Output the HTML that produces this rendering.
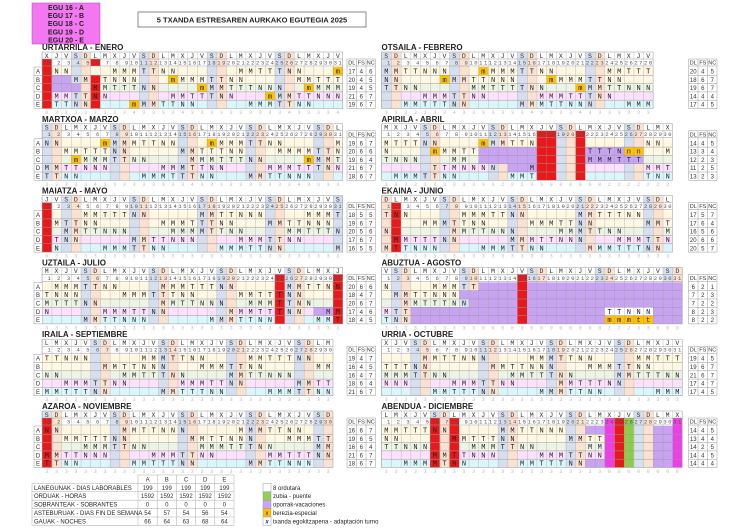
<!DOCTYPE html>
<html><head><meta charset="utf-8"><style>
body{margin:0;background:#fff;width:750px;height:529px;overflow:hidden}
svg{display:block}
.t{font:bold 8px "Liberation Sans",sans-serif;fill:#222}
.e{font:bold 7px "Liberation Sans",sans-serif;fill:#222}
.h{font:6.5px "Liberation Mono",monospace;letter-spacing:5.8px;white-space:pre;fill:#333}
.r{font:7px "Liberation Mono",monospace;letter-spacing:5.5px;white-space:pre;fill:#222}
.n{font:5.5px "Liberation Mono",monospace;letter-spacing:1.55px;white-space:pre;fill:#555}
.d{font:5px "Liberation Mono",monospace;letter-spacing:6.7px;white-space:pre;fill:#bbb}
.s{font:6px "Liberation Sans",sans-serif;fill:#333;text-anchor:middle}
.l{font:6px "Liberation Sans",sans-serif;fill:#222}
.ln{stroke:#999;stroke-width:.5;fill:none}
.S{fill:#d6dff0}.D{fill:#fbe1d0}.R{fill:#e8191b}.P{fill:#c7a3f2}.O{fill:#ffc000}.M{fill:#ec3fe4}.G{fill:#8ccc4a}
.ta{fill:#fff2cc;opacity:.6}.tb{fill:#fff2cc;opacity:.5}.tc{fill:#e2efda;opacity:.7}.td{fill:#ffccff;opacity:.6}.te{fill:#ccf2f8;opacity:.7}
</style></head><body>
<svg width="750" height="529" viewBox="0 0 750 529" xmlns="http://www.w3.org/2000/svg">
<defs>
<pattern id="vg" patternUnits="userSpaceOnUse" width="9.7" height="10"><line x1="0" y1="0" x2="0" y2="10" stroke="#999" stroke-width=".6"/></pattern>
<g id="tint31"><rect class="ta" y="15" width="300.7" height="8.3"/><rect class="tb" y="23.3" width="300.7" height="8.3"/><rect class="tc" y="31.6" width="300.7" height="8.3"/><rect class="td" y="39.9" width="300.7" height="8.3"/><rect class="te" y="48.2" width="300.7" height="8.3"/></g>
<g id="tint30"><rect class="ta" y="15" width="291" height="8.3"/><rect class="tb" y="23.3" width="291" height="8.3"/><rect class="tc" y="31.6" width="291" height="8.3"/><rect class="td" y="39.9" width="291" height="8.3"/><rect class="te" y="48.2" width="291" height="8.3"/></g>
<g id="tint28"><rect class="ta" y="15" width="271.6" height="8.3"/><rect class="tb" y="23.3" width="271.6" height="8.3"/><rect class="tc" y="31.6" width="271.6" height="8.3"/><rect class="td" y="39.9" width="271.6" height="8.3"/><rect class="te" y="48.2" width="271.6" height="8.3"/></g>
<g id="g31"><rect width="300.7" height="56.5" fill="url(#vg)"/><rect class="ln" width="300.7" height="56.5"/><path class="ln" d="M0 7h300.7M0 14h300.7M0 23.3h300.7M0 31.6h300.7M0 39.9h300.7M0 48.2h300.7"/></g>
<g id="g30"><rect width="291" height="56.5" fill="url(#vg)"/><rect class="ln" width="291" height="56.5"/><path class="ln" d="M0 7h291M0 14h291M0 23.3h291M0 31.6h291M0 39.9h291M0 48.2h291"/></g>
<g id="g28"><rect width="271.6" height="56.5" fill="url(#vg)"/><rect class="ln" width="271.6" height="56.5"/><path class="ln" d="M0 7h271.6M0 14h271.6M0 23.3h271.6M0 31.6h271.6M0 39.9h271.6M0 48.2h271.6"/></g>
<g id="lab"><rect x="-8" y="15" width="8" height="41.5" fill="#fff"/><path class="ln" d="M-8 15h8M-8 23.3h8M-8 31.6h8M-8 39.9h8M-8 48.2h8M-8 56.5h8M-8 15v41.5"/><text class="s" x="-4" y="21.5">A</text><text class="s" x="-4" y="29.8">B</text><text class="s" x="-4" y="38.1">C</text><text class="s" x="-4" y="46.4">D</text><text class="s" x="-4" y="54.7">E</text></g>
<g id="sth"><path class="ln" d="M0 7h28.5v49.5h-28.5zM0 14h28.5M0 23.3h28.5M0 31.6h28.5M0 39.9h28.5M0 48.2h28.5M9.5 7v49.5M19 7v49.5"/><text class="s" x="4.75" y="12.5" style="font-size:5.5px">DL</text><text class="s" x="14.25" y="12.5" style="font-size:5.5px">FS</text><text class="s" x="23.75" y="12.5" style="font-size:5.5px">NC</text></g>
</defs>

<!-- top -->
<rect x="32" y="3" width="68" height="41" fill="#f277f0" stroke="#b040b0" stroke-width=".5"/>
<text class="e" x="66" y="9.8" text-anchor="middle">EGU 16  -  A</text>
<text class="e" x="66" y="18" text-anchor="middle">EGU 17  -  B</text>
<text class="e" x="66" y="26.2" text-anchor="middle">EGU 18  -  C</text>
<text class="e" x="66" y="34.4" text-anchor="middle">EGU 19  -  D</text>
<text class="e" x="66" y="42.4" text-anchor="middle">EGU 20  -  E</text>
<rect x="138" y="12" width="228" height="15" fill="#fff" stroke="#888" stroke-width="1"/>
<text class="t" x="252" y="22.5" text-anchor="middle" style="font-size:7.5px">5 TXANDA ESTRESAREN AURKAKO EGUTEGIA   2025</text>

<!-- JAN -->
<g transform="translate(42,52)">
<text class="t" x="0" y="-2">URTARRILA - ENERO</text>
<use href="#tint31"/>
<rect class="S" x="29.1" width="9.7" height="56.5"/><rect class="S" x="97" width="9.7" height="56.5"/><rect class="S" x="164.9" width="9.7" height="56.5"/><rect class="S" x="232.8" width="9.7" height="56.5"/>
<rect class="D" x="38.8" width="9.7" height="56.5"/><rect class="D" x="106.7" width="9.7" height="56.5"/><rect class="D" x="174.6" width="9.7" height="56.5"/><rect class="D" x="242.5" width="9.7" height="56.5"/>
<rect class="P" x="9.7" y="23.3" width="19.4" height="8.3"/><rect class="P" x="9.7" y="31.6" width="29.1" height="8.3"/>
<rect class="R" x="0" y="7" width="9.7" height="49.5"/><rect class="R" x="48.5" y="23.3" width="9.7" height="33.2"/><rect class="R" x="48.5" y="7" width="9.7" height="7"/>
<rect class="O" x="291" y="15" width="9.7" height="8.3"/><rect class="O" x="126.1" y="23.3" width="9.7" height="8.3"/><rect class="O" x="155.2" y="31.6" width="9.7" height="8.3"/><rect class="O" x="261.9" y="31.6" width="9.7" height="8.3"/><rect class="O" x="223.1" y="39.9" width="9.7" height="8.3"/><rect class="O" x="87.3" y="48.2" width="9.7" height="8.3"/>
<use href="#g31"/><use href="#lab"/>
<text class="h" x="2.8" y="5.8" xml:space="preserve">XJVSDLMXJVSDLMXJVSDLMXJVSDLMXJV</text>
<text class="n" x="0.6" y="12.4" xml:space="preserve"> 1 2 3 4 5 6 7 8 910111213141516171819202122232425262728293031</text>
<text class="r" x="2.75" y="21.5" xml:space="preserve"> NN    MMMTTNN      MMTTTNN   m</text>
<text class="r" x="2.75" y="29.8" xml:space="preserve">   MM TNNN   mMMMTTNN     MMTTT</text>
<text class="r" x="2.75" y="38.1" xml:space="preserve">     MMTTTNN    mMMTTTNNN  mMMM</text>
<text class="r" x="2.75" y="46.4" xml:space="preserve"> MMTTNN      MMTTTNN   mMMTTNNN</text>
<text class="r" x="2.75" y="54.7" xml:space="preserve"> TTNN    mMMTTNN     MMMTTNN   </text>
<text class="d" x="3.3" y="62" xml:space="preserve">0333333334333343333333333433334</text>
<g transform="translate(305,0)"><use href="#sth"/>
<text class="s" x="4.75" y="21.5">17</text><text class="s" x="14.25" y="21.5">4</text><text class="s" x="23.75" y="21.5">6</text>
<text class="s" x="4.75" y="29.8">20</text><text class="s" x="14.25" y="29.8">4</text><text class="s" x="23.75" y="29.8">5</text>
<text class="s" x="4.75" y="38.1">19</text><text class="s" x="14.25" y="38.1">4</text><text class="s" x="23.75" y="38.1">5</text>
<text class="s" x="4.75" y="46.4">21</text><text class="s" x="14.25" y="46.4">6</text><text class="s" x="23.75" y="46.4">7</text>
<text class="s" x="4.75" y="54.7">19</text><text class="s" x="14.25" y="54.7">6</text><text class="s" x="23.75" y="54.7">7</text></g>
</g>

<!-- FEB -->
<g transform="translate(381.5,52)">
<text class="t" x="0" y="-2">OTSAILA - FEBRERO</text>
<use href="#tint28"/>
<rect class="S" x="0" width="9.7" height="56.5"/><rect class="S" x="67.9" width="9.7" height="56.5"/><rect class="S" x="135.8" width="9.7" height="56.5"/><rect class="S" x="203.7" width="9.7" height="56.5"/>
<rect class="D" x="9.7" width="9.7" height="56.5"/><rect class="D" x="77.6" width="9.7" height="56.5"/><rect class="D" x="145.5" width="9.7" height="56.5"/><rect class="D" x="213.4" width="9.7" height="56.5"/>
<rect class="O" x="97" y="15" width="9.7" height="8.3"/><rect class="O" x="58.2" y="23.3" width="9.7" height="8.3"/><rect class="O" x="164.9" y="23.3" width="9.7" height="8.3"/><rect class="O" x="194" y="31.6" width="9.7" height="8.3"/>
<use href="#g28"/>
<text class="h" x="2.8" y="5.8" xml:space="preserve">SDLMXJVSDLMXJVSDLMXJVSDLMXJV</text>
<text class="n" x="0.6" y="12.4" xml:space="preserve"> 1 2 3 4 5 6 7 8 910111213141516171819202122232425262728</text>
<text class="r" x="2.75" y="21.5" xml:space="preserve">MMTTNNN   mMMMTTNN     MMTTT</text>
<text class="r" x="2.75" y="29.8" xml:space="preserve">NN    mMMTTNNN   mMMMTTNN   </text>
<text class="r" x="2.75" y="38.1" xml:space="preserve">TTNN     MMTTTTNN   mMMTTNNN</text>
<text class="r" x="2.75" y="46.4" xml:space="preserve">    MMMTTNN     MMMTTTNN    </text>
<text class="r" x="2.75" y="54.7" xml:space="preserve">  MMTTTNN     MMMTTNNN   MMM</text>
<text class="d" x="3.3" y="62" xml:space="preserve">3333333433333334333343333333</text>
<g transform="translate(307,0)"><use href="#sth"/>
<text class="s" x="4.75" y="21.5">20</text><text class="s" x="14.25" y="21.5">4</text><text class="s" x="23.75" y="21.5">5</text>
<text class="s" x="4.75" y="29.8">18</text><text class="s" x="14.25" y="29.8">6</text><text class="s" x="23.75" y="29.8">7</text>
<text class="s" x="4.75" y="38.1">19</text><text class="s" x="14.25" y="38.1">6</text><text class="s" x="23.75" y="38.1">7</text>
<text class="s" x="4.75" y="46.4">14</text><text class="s" x="14.25" y="46.4">4</text><text class="s" x="23.75" y="46.4">4</text>
<text class="s" x="4.75" y="54.7">17</text><text class="s" x="14.25" y="54.7">4</text><text class="s" x="23.75" y="54.7">5</text></g>
</g>

<!-- MAR -->
<g transform="translate(42,123.8)">
<text class="t" x="0" y="-2">MARTXOA - MARZO</text>
<use href="#tint31"/>
<rect class="S" x="0" width="9.7" height="56.5"/><rect class="S" x="67.9" width="9.7" height="56.5"/><rect class="S" x="135.8" width="9.7" height="56.5"/><rect class="S" x="203.7" width="9.7" height="56.5"/><rect class="S" x="271.6" width="9.7" height="56.5"/>
<rect class="D" x="9.7" width="9.7" height="56.5"/><rect class="D" x="77.6" width="9.7" height="56.5"/><rect class="D" x="145.5" width="9.7" height="56.5"/><rect class="D" x="213.4" width="9.7" height="56.5"/><rect class="D" x="281.3" width="9.7" height="56.5"/>
<rect class="O" x="58.2" y="15" width="9.7" height="8.3"/><rect class="O" x="164.9" y="15" width="9.7" height="8.3"/><rect class="O" x="29.1" y="31.6" width="9.7" height="8.3"/><rect class="O" x="261.9" y="31.6" width="9.7" height="8.3"/>
<use href="#g31"/><use href="#lab"/>
<text class="h" x="2.8" y="5.8" xml:space="preserve">SDLMXJVSDLMXJVSDLMXJVSDLMXJVSDL</text>
<text class="n" x="0.6" y="12.4" xml:space="preserve"> 1 2 3 4 5 6 7 8 910111213141516171819202122232425262728293031</text>
<text class="r" x="2.75" y="21.5" xml:space="preserve">NN    mMMMTTNN   mMMMTTNN     M</text>
<text class="r" x="2.75" y="29.8" xml:space="preserve">  MMTTTNN     MMTTTNN   MMMMTTN</text>
<text class="r" x="2.75" y="38.1" xml:space="preserve">   mMMMTTNN    MMMTTTNN    mMMT</text>
<text class="r" x="2.75" y="46.4" xml:space="preserve">MMTTNNN     MMMTTNN    MMMTTTNN</text>
<text class="r" x="2.75" y="54.7" xml:space="preserve">TTNN      MMMTTTNN   MMTTNNN   </text>
<text class="d" x="3.3" y="62" xml:space="preserve">3333343333333334333333333343333</text>
<g transform="translate(305,0)"><use href="#sth"/>
<text class="s" x="4.75" y="21.5">19</text><text class="s" x="14.25" y="21.5">6</text><text class="s" x="23.75" y="21.5">7</text>
<text class="s" x="4.75" y="29.8">20</text><text class="s" x="14.25" y="29.8">6</text><text class="s" x="23.75" y="29.8">6</text>
<text class="s" x="4.75" y="38.1">19</text><text class="s" x="14.25" y="38.1">6</text><text class="s" x="23.75" y="38.1">4</text>
<text class="s" x="4.75" y="46.4">21</text><text class="s" x="14.25" y="46.4">6</text><text class="s" x="23.75" y="46.4">7</text>
<text class="s" x="4.75" y="54.7">18</text><text class="s" x="14.25" y="54.7">6</text><text class="s" x="23.75" y="54.7">7</text></g>
</g>

<!-- APR -->
<g transform="translate(381.5,123.8)">
<text class="t" x="0" y="-2">APIRILA - ABRIL</text>
<use href="#tint30"/>
<rect class="S" x="38.8" width="9.7" height="56.5"/><rect class="S" x="106.7" width="9.7" height="56.5"/><rect class="S" x="174.6" width="9.7" height="56.5"/><rect class="S" x="242.5" width="9.7" height="56.5"/>
<rect class="D" x="48.5" width="9.7" height="56.5"/><rect class="D" x="116.4" width="9.7" height="56.5"/><rect class="D" x="184.3" width="9.7" height="56.5"/><rect class="D" x="252.2" width="9.7" height="56.5"/>
<rect class="P" x="97" y="23.3" width="58.2" height="16.6"/><rect class="P" x="203.7" y="23.3" width="58.2" height="16.6"/><rect class="P" x="126.1" y="39.9" width="29.1" height="8.3"/>
<rect class="R" x="155.2" y="7" width="19.4" height="49.5"/><rect class="R" x="194" y="7" width="9.7" height="49.5"/>
<rect class="O" x="97" y="15" width="9.7" height="8.3"/><rect class="O" x="48.5" y="23.3" width="9.7" height="8.3"/><rect class="O" x="242.5" y="23.3" width="19.4" height="8.3"/>
<use href="#g30"/>
<text class="h" x="2.8" y="5.8" xml:space="preserve">MXJVSDLMXJVSDLMXJVSDLMXJVSDLMX</text>
<text class="n" x="0.6" y="12.4" xml:space="preserve"> 1 2 3 4 5 6 7 8 9101112131415161718192021222324252627282930</text>
<text class="r" x="2.75" y="21.5" xml:space="preserve">MTTTNN    mMMTTN           NN </text>
<text class="r" x="2.75" y="29.8" xml:space="preserve">N    mMMTT           TTTNnn  M</text>
<text class="r" x="2.75" y="38.1" xml:space="preserve">TNNN   MM            MMMTTT   </text>
<text class="r" x="2.75" y="46.4" xml:space="preserve">     TTMNNNN   M           MMT</text>
<text class="r" x="2.75" y="54.7" xml:space="preserve"> MMMTTNN     MMT           TNN</text>
<text class="d" x="3.3" y="62" xml:space="preserve">333333333333222330000002222222</text>
<g transform="translate(307,0)"><use href="#sth"/>
<text class="s" x="4.75" y="21.5">14</text><text class="s" x="14.25" y="21.5">4</text><text class="s" x="23.75" y="21.5">5</text>
<text class="s" x="4.75" y="29.8">13</text><text class="s" x="14.25" y="29.8">3</text><text class="s" x="23.75" y="29.8">4</text>
<text class="s" x="4.75" y="38.1">12</text><text class="s" x="14.25" y="38.1">2</text><text class="s" x="23.75" y="38.1">3</text>
<text class="s" x="4.75" y="46.4">11</text><text class="s" x="14.25" y="46.4">2</text><text class="s" x="23.75" y="46.4">5</text>
<text class="s" x="4.75" y="54.7">13</text><text class="s" x="14.25" y="54.7">2</text><text class="s" x="23.75" y="54.7">3</text></g>
</g>

<!-- MAY -->
<g transform="translate(42,195.6)">
<text class="t" x="0" y="-2">MAIATZA - MAYO</text>
<use href="#tint31"/>
<rect class="S" x="19.4" width="9.7" height="56.5"/><rect class="S" x="87.3" width="9.7" height="56.5"/><rect class="S" x="155.2" width="9.7" height="56.5"/><rect class="S" x="223.1" width="9.7" height="56.5"/><rect class="S" x="291" width="9.7" height="56.5"/>
<rect class="D" x="29.1" width="9.7" height="56.5"/><rect class="D" x="97" width="9.7" height="56.5"/><rect class="D" x="164.9" width="9.7" height="56.5"/><rect class="D" x="232.8" width="9.7" height="56.5"/>
<rect class="R" x="0" y="7" width="9.7" height="49.5"/>
<use href="#g31"/><use href="#lab"/>
<text class="h" x="2.8" y="5.8" xml:space="preserve">JVSDLMXJVSDLMXJVSDLMXJVSDLMXJVS</text>
<text class="n" x="0.6" y="12.4" xml:space="preserve"> 1 2 3 4 5 6 7 8 910111213141516171819202122232425262728293031</text>
<text class="r" x="2.75" y="21.5" xml:space="preserve">    MMTTTNN     MMTTNNN    MMMT</text>
<text class="r" x="2.75" y="29.8" xml:space="preserve"> MTTNN      MMMTTTNN   MMTTNNN </text>
<text class="r" x="2.75" y="38.1" xml:space="preserve">  MMTTNNN    MMMMTTNN    MMTTTN</text>
<text class="r" x="2.75" y="46.4" xml:space="preserve"> TNN     MMTTNNN    MMMTTNN    </text>
<text class="r" x="2.75" y="54.7" xml:space="preserve"> N    MMMTTNN     MMMTTNN     M</text>
<text class="d" x="3.3" y="62" xml:space="preserve">0333333333333333333333333333333</text>
<g transform="translate(305,0)"><use href="#sth"/>
<text class="s" x="4.75" y="21.5">18</text><text class="s" x="14.25" y="21.5">5</text><text class="s" x="23.75" y="21.5">5</text>
<text class="s" x="4.75" y="29.8">19</text><text class="s" x="14.25" y="29.8">6</text><text class="s" x="23.75" y="29.8">7</text>
<text class="s" x="4.75" y="38.1">20</text><text class="s" x="14.25" y="38.1">5</text><text class="s" x="23.75" y="38.1">6</text>
<text class="s" x="4.75" y="46.4">17</text><text class="s" x="14.25" y="46.4">6</text><text class="s" x="23.75" y="46.4">7</text>
<text class="s" x="4.75" y="54.7">16</text><text class="s" x="14.25" y="54.7">5</text><text class="s" x="23.75" y="54.7">5</text></g>
</g>

<!-- JUN -->
<g transform="translate(381.5,195.6)">
<text class="t" x="0" y="-2">EKAINA - JUNIO</text>
<use href="#tint30"/>
<rect class="S" x="58.2" width="9.7" height="56.5"/><rect class="S" x="126.1" width="9.7" height="56.5"/><rect class="S" x="194" width="9.7" height="56.5"/><rect class="S" x="261.9" width="9.7" height="56.5"/>
<rect class="D" x="0" width="9.7" height="56.5"/><rect class="D" x="67.9" width="9.7" height="56.5"/><rect class="D" x="135.8" width="9.7" height="56.5"/><rect class="D" x="203.7" width="9.7" height="56.5"/><rect class="D" x="271.6" width="9.7" height="56.5"/>
<rect class="R" x="9.7" y="7" width="9.7" height="49.5"/>
<use href="#g30"/>
<text class="h" x="2.8" y="5.8" xml:space="preserve">DLMXJVSDLMXJVSDLMXJVSDLMXJVSDL</text>
<text class="n" x="0.6" y="12.4" xml:space="preserve"> 1 2 3 4 5 6 7 8 9101112131415161718192021222324252627282930</text>
<text class="r" x="2.75" y="21.5" xml:space="preserve">TNN     MMMTTNN     MMTTTNN   </text>
<text class="r" x="2.75" y="29.8" xml:space="preserve">    MMMTTNN    MMMTTNN     MMT</text>
<text class="r" x="2.75" y="38.1" xml:space="preserve">N      MMTTNNN    MMMTTNN    M</text>
<text class="r" x="2.75" y="46.4" xml:space="preserve"> MMTTTNN     MMMTTNNN   MMMTTN</text>
<text class="r" x="2.75" y="54.7" xml:space="preserve">MTTNNN    MMMTTNN    MMMTTTNN </text>
<text class="d" x="3.3" y="62" xml:space="preserve">330333333333333333333333333333</text>
<g transform="translate(307,0)"><use href="#sth"/>
<text class="s" x="4.75" y="21.5">17</text><text class="s" x="14.25" y="21.5">5</text><text class="s" x="23.75" y="21.5">7</text>
<text class="s" x="4.75" y="29.8">17</text><text class="s" x="14.25" y="29.8">6</text><text class="s" x="23.75" y="29.8">4</text>
<text class="s" x="4.75" y="38.1">16</text><text class="s" x="14.25" y="38.1">5</text><text class="s" x="23.75" y="38.1">6</text>
<text class="s" x="4.75" y="46.4">20</text><text class="s" x="14.25" y="46.4">6</text><text class="s" x="23.75" y="46.4">6</text>
<text class="s" x="4.75" y="54.7">20</text><text class="s" x="14.25" y="54.7">5</text><text class="s" x="23.75" y="54.7">7</text></g>
</g>

<!-- JUL -->
<g transform="translate(42,267.4)">
<text class="t" x="0" y="-2">UZTAILA - JULIO</text>
<use href="#tint31"/>
<rect class="S" x="38.8" width="9.7" height="56.5"/><rect class="S" x="106.7" width="9.7" height="56.5"/><rect class="S" x="174.6" width="9.7" height="56.5"/><rect class="S" x="242.5" width="9.7" height="56.5"/>
<rect class="D" x="48.5" width="9.7" height="56.5"/><rect class="D" x="116.4" width="9.7" height="56.5"/><rect class="D" x="184.3" width="9.7" height="56.5"/><rect class="D" x="252.2" width="9.7" height="56.5"/>
<rect class="P" x="271.6" y="39.9" width="19.4" height="8.3"/>
<rect class="R" x="232.8" y="7" width="9.7" height="49.5"/><rect class="R" x="291" y="7" width="9.7" height="49.5"/>
<use href="#g31"/><use href="#lab"/>
<text class="h" x="2.8" y="5.8" xml:space="preserve">MXJVSDLMXJVSDLMXJVSDLMXJVSDLMXJ</text>
<text class="n" x="0.6" y="12.4" xml:space="preserve"> 1 2 3 4 5 6 7 8 910111213141516171819202122232425262728293031</text>
<text class="r" x="2.75" y="21.5" xml:space="preserve"> MMMTTNN    MMMTTTNN     MMTTNN</text>
<text class="r" x="2.75" y="29.8" xml:space="preserve">TNNN    MMMTTTNN    MMTTTNN    </text>
<text class="r" x="2.75" y="38.1" xml:space="preserve">MTTTNN      MMTTNNN  MMMTTNN   </text>
<text class="r" x="2.75" y="46.4" xml:space="preserve">N     MMMTTNN      MMMTTTNN  MM</text>
<text class="r" x="2.75" y="54.7" xml:space="preserve">    MMTTNNN      MMMTTNN    MMT</text>
<text class="d" x="3.3" y="62" xml:space="preserve">3333333333333333333333333333333</text>
<g transform="translate(305,0)"><use href="#sth"/>
<text class="s" x="4.75" y="21.5">20</text><text class="s" x="14.25" y="21.5">6</text><text class="s" x="23.75" y="21.5">6</text>
<text class="s" x="4.75" y="29.8">18</text><text class="s" x="14.25" y="29.8">4</text><text class="s" x="23.75" y="29.8">7</text>
<text class="s" x="4.75" y="38.1">20</text><text class="s" x="14.25" y="38.1">6</text><text class="s" x="23.75" y="38.1">7</text>
<text class="s" x="4.75" y="46.4">17</text><text class="s" x="14.25" y="46.4">4</text><text class="s" x="23.75" y="46.4">6</text>
<text class="s" x="4.75" y="54.7">18</text><text class="s" x="14.25" y="54.7">4</text><text class="s" x="23.75" y="54.7">5</text></g>
</g>

<!-- AUG -->
<g transform="translate(381.5,267.4)">
<text class="t" x="0" y="-2">ABUZTUA - AGOSTO</text>
<use href="#tint31"/>
<rect class="S" x="9.7" width="9.7" height="56.5"/><rect class="S" x="77.6" width="9.7" height="56.5"/><rect class="S" x="145.5" width="9.7" height="56.5"/><rect class="S" x="213.4" width="9.7" height="56.5"/><rect class="S" x="281.3" width="9.7" height="56.5"/>
<rect class="D" x="19.4" width="9.7" height="56.5"/><rect class="D" x="87.3" width="9.7" height="56.5"/><rect class="D" x="155.2" width="9.7" height="56.5"/><rect class="D" x="223.1" width="9.7" height="56.5"/><rect class="D" x="291" width="9.7" height="56.5"/>
<rect class="P" x="97" y="15" width="203.7" height="8.3"/><rect class="P" x="77.6" y="23.3" width="223.1" height="8.3"/><rect class="P" x="87.3" y="31.6" width="213.4" height="8.3"/><rect class="P" x="29.1" y="39.9" width="271.6" height="16.6"/>
<rect fill="#fff" x="223.1" y="39.9" width="48.5" height="8.3"/><rect class="O" x="223.1" y="48.2" width="48.5" height="8.3"/>
<rect class="R" x="135.8" y="7" width="9.7" height="49.5"/>
<use href="#g31"/>
<text class="h" x="2.8" y="5.8" xml:space="preserve">VSDLMXJVSDLMXJVSDLMXJVSDLMXJVSD</text>
<text class="n" x="0.6" y="12.4" xml:space="preserve"> 1 2 3 4 5 6 7 8 910111213141516171819202122232425262728293031</text>
<text class="r" x="2.75" y="21.5" xml:space="preserve">N    MMMTT                     </text>
<text class="r" x="2.75" y="29.8" xml:space="preserve"> MMTTNNN                       </text>
<text class="r" x="2.75" y="38.1" xml:space="preserve">  MMTTTNN                      </text>
<text class="r" x="2.75" y="46.4" xml:space="preserve">MTT                    TTNNN   </text>
<text class="r" x="2.75" y="54.7" xml:space="preserve">TNN                    mmmtt   </text>
<text class="d" x="3.3" y="62" xml:space="preserve">3333333333000000000000012233000</text>
<g transform="translate(307,0)"><use href="#sth"/>
<text class="s" x="4.75" y="21.5">6</text><text class="s" x="14.25" y="21.5">2</text><text class="s" x="23.75" y="21.5">1</text>
<text class="s" x="4.75" y="29.8">7</text><text class="s" x="14.25" y="29.8">2</text><text class="s" x="23.75" y="29.8">3</text>
<text class="s" x="4.75" y="38.1">7</text><text class="s" x="14.25" y="38.1">2</text><text class="s" x="23.75" y="38.1">2</text>
<text class="s" x="4.75" y="46.4">8</text><text class="s" x="14.25" y="46.4">2</text><text class="s" x="23.75" y="46.4">3</text>
<text class="s" x="4.75" y="54.7">8</text><text class="s" x="14.25" y="54.7">2</text><text class="s" x="23.75" y="54.7">2</text></g>
</g>

<!-- SEP -->
<g transform="translate(42,339.2)">
<text class="t" x="0" y="-2">IRAILA - SEPTIEMBRE</text>
<use href="#tint30"/>
<rect class="S" x="48.5" width="9.7" height="56.5"/><rect class="S" x="116.4" width="9.7" height="56.5"/><rect class="S" x="184.3" width="9.7" height="56.5"/><rect class="S" x="252.2" width="9.7" height="56.5"/>
<rect class="D" x="58.2" width="9.7" height="56.5"/><rect class="D" x="126.1" width="9.7" height="56.5"/><rect class="D" x="194" width="9.7" height="56.5"/><rect class="D" x="261.9" width="9.7" height="56.5"/>
<use href="#g30"/><use href="#lab"/>
<text class="h" x="2.8" y="5.8" xml:space="preserve">LMXJVSDLMXJVSDLMXJVSDLMXJVSDLM</text>
<text class="n" x="0.6" y="12.4" xml:space="preserve"> 1 2 3 4 5 6 7 8 9101112131415161718192021222324252627282930</text>
<text class="r" x="2.75" y="21.5" xml:space="preserve">TTNNN     MMMTTNN    MMTTTNN  </text>
<text class="r" x="2.75" y="29.8" xml:space="preserve">      MMTTNNN   MMMTTNN     MM</text>
<text class="r" x="2.75" y="38.1" xml:space="preserve">NN      MMTTTNN    MMTTNNN    </text>
<text class="r" x="2.75" y="46.4" xml:space="preserve">  MMMTTNN     MMMTTNN     MMTT</text>
<text class="r" x="2.75" y="54.7" xml:space="preserve">MMTTTNN     MMTTTNN    MMMTTNN</text>
<text class="d" x="3.3" y="62" xml:space="preserve">333333333333333333333333333333</text>
<g transform="translate(305,0)"><use href="#sth"/>
<text class="s" x="4.75" y="21.5">19</text><text class="s" x="14.25" y="21.5">4</text><text class="s" x="23.75" y="21.5">7</text>
<text class="s" x="4.75" y="29.8">16</text><text class="s" x="14.25" y="29.8">4</text><text class="s" x="23.75" y="29.8">5</text>
<text class="s" x="4.75" y="38.1">16</text><text class="s" x="14.25" y="38.1">4</text><text class="s" x="23.75" y="38.1">7</text>
<text class="s" x="4.75" y="46.4">18</text><text class="s" x="14.25" y="46.4">6</text><text class="s" x="23.75" y="46.4">4</text>
<text class="s" x="4.75" y="54.7">21</text><text class="s" x="14.25" y="54.7">6</text><text class="s" x="23.75" y="54.7">7</text></g>
</g>

<!-- OCT -->
<g transform="translate(381.5,339.2)">
<text class="t" x="0" y="-2">URRIA - OCTUBRE</text>
<use href="#tint31"/>
<rect class="S" x="29.1" width="9.7" height="56.5"/><rect class="S" x="97" width="9.7" height="56.5"/><rect class="S" x="164.9" width="9.7" height="56.5"/><rect class="S" x="232.8" width="9.7" height="56.5"/>
<rect class="D" x="38.8" width="9.7" height="56.5"/><rect class="D" x="106.7" width="9.7" height="56.5"/><rect class="D" x="174.6" width="9.7" height="56.5"/><rect class="D" x="242.5" width="9.7" height="56.5"/>
<use href="#g31"/>
<text class="h" x="2.8" y="5.8" xml:space="preserve">XJVSDLMXJVSDLMXJVSDLMXJVSDLMXJV</text>
<text class="n" x="0.6" y="12.4" xml:space="preserve"> 1 2 3 4 5 6 7 8 910111213141516171819202122232425262728293031</text>
<text class="r" x="2.75" y="21.5" xml:space="preserve">    MMTTNNN    MMMTTNN    MMTTT</text>
<text class="r" x="2.75" y="29.8" xml:space="preserve">TTTNN      MMTTNNN   MMMTTNN   </text>
<text class="r" x="2.75" y="38.1" xml:space="preserve">MMMTTNN      MMTTTNN    MMTTTNN</text>
<text class="r" x="2.75" y="46.4" xml:space="preserve">NNN    MMMTTNN    MMTTTNN      </text>
<text class="r" x="2.75" y="54.7" xml:space="preserve">     MMTTTNN    MMMTTNN     MMM</text>
<text class="d" x="3.3" y="62" xml:space="preserve">3333333333333333333333333333333</text>
<g transform="translate(307,0)"><use href="#sth"/>
<text class="s" x="4.75" y="21.5">19</text><text class="s" x="14.25" y="21.5">4</text><text class="s" x="23.75" y="21.5">5</text>
<text class="s" x="4.75" y="29.8">19</text><text class="s" x="14.25" y="29.8">6</text><text class="s" x="23.75" y="29.8">7</text>
<text class="s" x="4.75" y="38.1">21</text><text class="s" x="14.25" y="38.1">6</text><text class="s" x="23.75" y="38.1">7</text>
<text class="s" x="4.75" y="46.4">17</text><text class="s" x="14.25" y="46.4">4</text><text class="s" x="23.75" y="46.4">7</text>
<text class="s" x="4.75" y="54.7">17</text><text class="s" x="14.25" y="54.7">4</text><text class="s" x="23.75" y="54.7">5</text></g>
</g>

<!-- NOV -->
<g transform="translate(42,411)">
<text class="t" x="0" y="-2">AZAROA - NOVIEMBRE</text>
<use href="#tint30"/>
<rect class="S" x="0" width="9.7" height="56.5"/><rect class="S" x="67.9" width="9.7" height="56.5"/><rect class="S" x="135.8" width="9.7" height="56.5"/><rect class="S" x="203.7" width="9.7" height="56.5"/><rect class="S" x="271.6" width="9.7" height="56.5"/>
<rect class="D" x="9.7" width="9.7" height="56.5"/><rect class="D" x="77.6" width="9.7" height="56.5"/><rect class="D" x="145.5" width="9.7" height="56.5"/><rect class="D" x="213.4" width="9.7" height="56.5"/><rect class="D" x="281.3" width="9.7" height="56.5"/>
<rect class="R" x="0" y="7" width="9.7" height="49.5"/>
<use href="#g30"/><use href="#lab"/>
<text class="h" x="2.8" y="5.8" xml:space="preserve">SDLMXJVSDLMXJVSDLMXJVSDLMXJVSD</text>
<text class="n" x="0.6" y="12.4" xml:space="preserve"> 1 2 3 4 5 6 7 8 9101112131415161718192021222324252627282930</text>
<text class="r" x="2.75" y="21.5" xml:space="preserve">NN      MMTTNNN     MMMTTNN   </text>
<text class="r" x="2.75" y="29.8" xml:space="preserve">  MMTTTNN      MMTTNNN   MMMTT</text>
<text class="r" x="2.75" y="38.1" xml:space="preserve">    MMMTTNN     MMMTTTNN    MM</text>
<text class="r" x="2.75" y="46.4" xml:space="preserve">MMTTNNN    MMMTTNN     MMTTTNN</text>
<text class="r" x="2.75" y="54.7" xml:space="preserve">TTNN     MMTTTNN     MMTTNNN  </text>
<text class="d" x="3.3" y="62" xml:space="preserve">333333333333333333333333333333</text>
<g transform="translate(305,0)"><use href="#sth"/>
<text class="s" x="4.75" y="21.5">16</text><text class="s" x="14.25" y="21.5">6</text><text class="s" x="23.75" y="21.5">7</text>
<text class="s" x="4.75" y="29.8">19</text><text class="s" x="14.25" y="29.8">6</text><text class="s" x="23.75" y="29.8">5</text>
<text class="s" x="4.75" y="38.1">16</text><text class="s" x="14.25" y="38.1">6</text><text class="s" x="23.75" y="38.1">4</text>
<text class="s" x="4.75" y="46.4">21</text><text class="s" x="14.25" y="46.4">6</text><text class="s" x="23.75" y="46.4">7</text>
<text class="s" x="4.75" y="54.7">18</text><text class="s" x="14.25" y="54.7">6</text><text class="s" x="23.75" y="54.7">7</text></g>
</g>

<!-- DEC -->
<g transform="translate(381.5,411)">
<text class="t" x="0" y="-2">ABENDUA - DICIEMBRE</text>
<use href="#tint31"/>
<rect class="S" x="48.5" width="9.7" height="56.5"/><rect class="S" x="116.4" width="9.7" height="56.5"/><rect class="S" x="184.3" width="9.7" height="56.5"/><rect class="S" x="252.2" width="9.7" height="56.5"/>
<rect class="D" x="58.2" width="9.7" height="56.5"/><rect class="D" x="126.1" width="9.7" height="56.5"/><rect class="D" x="194" width="9.7" height="56.5"/><rect class="D" x="261.9" width="9.7" height="56.5"/>
<rect class="P" x="203.7" y="15" width="19.4" height="8.3"/><rect class="P" x="271.6" y="15" width="19.4" height="41.5"/><rect class="P" x="203.7" y="48.2" width="19.4" height="8.3"/>
<rect class="R" x="48.5" y="7" width="9.7" height="49.5"/><rect class="R" x="67.9" y="7" width="9.7" height="49.5"/><rect class="R" x="232.8" y="7" width="9.7" height="49.5"/>
<rect class="M" x="223.1" y="7" width="9.7" height="49.5"/><rect class="M" x="291" y="7" width="9.7" height="49.5"/><rect class="G" x="242.5" y="7" width="9.7" height="49.5"/>
<use href="#g31"/>
<text class="h" x="2.8" y="5.8" xml:space="preserve">LMXJVSDLMXJVSDLMXJVSDLMXJVSDLMX</text>
<text class="n" x="0.6" y="12.4" xml:space="preserve"> 1 2 3 4 5 6 7 8 910111213141516171819202122232425262728293031</text>
<text class="r" x="2.75" y="21.5" xml:space="preserve">MMTTTNN     MMTTNNN            </text>
<text class="r" x="2.75" y="29.8" xml:space="preserve">NN     MMTTTNN     MMTT        </text>
<text class="r" x="2.75" y="38.1" xml:space="preserve">TTNNN    MMMTTNN     MM        </text>
<text class="r" x="2.75" y="46.4" xml:space="preserve">     MMTTNNN    MMMTTNN        </text>
<text class="r" x="2.75" y="54.7" xml:space="preserve">  MMMMTNN     MMTTTNN          </text>
<text class="d" x="3.3" y="62" xml:space="preserve">3333333333333333333333300000000</text>
<g transform="translate(307,0)"><use href="#sth"/>
<text class="s" x="4.75" y="21.5">14</text><text class="s" x="14.25" y="21.5">4</text><text class="s" x="23.75" y="21.5">5</text>
<text class="s" x="4.75" y="29.8">13</text><text class="s" x="14.25" y="29.8">4</text><text class="s" x="23.75" y="29.8">4</text>
<text class="s" x="4.75" y="38.1">14</text><text class="s" x="14.25" y="38.1">2</text><text class="s" x="23.75" y="38.1">5</text>
<text class="s" x="4.75" y="46.4">14</text><text class="s" x="14.25" y="46.4">4</text><text class="s" x="23.75" y="46.4">5</text>
<text class="s" x="4.75" y="54.7">14</text><text class="s" x="14.25" y="54.7">4</text><text class="s" x="23.75" y="54.7">4</text></g>
</g>

<!-- summary table -->
<g>
<rect x="138" y="475" width="96" height="8.4" fill="#fff"/>
<path class="ln" d="M138 475h96M32 483.4h202M32 491.8h202M32 500.2h202M32 508.6h202M32 517h202M32 525.4h202M32 483.4v42M138 475v50.4M157.2 475v50.4M176.4 475v50.4M195.6 475v50.4M214.8 475v50.4M234 475v50.4" style="stroke:#aaa"/>
<text class="s" x="147.6" y="481.5">A</text><text class="s" x="166.8" y="481.5">B</text><text class="s" x="186" y="481.5">C</text><text class="s" x="205.2" y="481.5">D</text><text class="s" x="224.4" y="481.5">E</text>
<text class="l" x="34" y="489.8">LANEGUNAK - DIAS LABORABLES</text>
<text class="l" x="34" y="498.2">ORDUAK - HORAS</text>
<text class="l" x="34" y="506.6">SOBRANTEAK - SOBRANTES</text>
<text class="l" x="34" y="515">ASTEBURUAK - DIAS FIN DE SEMANA</text>
<text class="l" x="34" y="523.4">GAUAK - NOCHES</text>
<g style="font-size:5.5px">
<text class="s" x="147.6" y="489.8">199</text><text class="s" x="166.8" y="489.8">199</text><text class="s" x="186" y="489.8">199</text><text class="s" x="205.2" y="489.8">199</text><text class="s" x="224.4" y="489.8">199</text>
<text class="s" x="147.6" y="498.2">1592</text><text class="s" x="166.8" y="498.2">1592</text><text class="s" x="186" y="498.2">1592</text><text class="s" x="205.2" y="498.2">1592</text><text class="s" x="224.4" y="498.2">1592</text>
<text class="s" x="147.6" y="506.6">0</text><text class="s" x="166.8" y="506.6">0</text><text class="s" x="186" y="506.6">0</text><text class="s" x="205.2" y="506.6">0</text><text class="s" x="224.4" y="506.6">0</text>
<text class="s" x="147.6" y="515">54</text><text class="s" x="166.8" y="515">57</text><text class="s" x="186" y="515">54</text><text class="s" x="205.2" y="515">56</text><text class="s" x="224.4" y="515">54</text>
<text class="s" x="147.6" y="523.4">66</text><text class="s" x="166.8" y="523.4">64</text><text class="s" x="186" y="523.4">63</text><text class="s" x="205.2" y="523.4">68</text><text class="s" x="224.4" y="523.4">64</text>
</g>
</g>

<!-- legend -->
<rect x="263" y="483.4" width="8" height="8.4" fill="#fff" stroke="#999" stroke-width=".5"/>
<rect x="263" y="491.8" width="8" height="8.4" fill="#92d050" stroke="#999" stroke-width=".5"/>
<rect x="263" y="500.2" width="8" height="8.4" fill="#c9a6f5" stroke="#999" stroke-width=".5"/>
<rect x="263" y="508.6" width="8" height="8.4" fill="#ffc000" stroke="#999" stroke-width=".5"/>
<rect x="263" y="517" width="8" height="8.4" fill="#fff" stroke="#999" stroke-width=".5"/>
<text class="s" x="267" y="515" style="font-size:6px">x</text>
<text class="s" x="267" y="523.4" style="font-size:6px;fill:#1a2fd0;font-style:italic;font-weight:bold">x</text>
<text class="l" x="273" y="489.8">8 ordutara</text>
<text class="l" x="273" y="498.2">zubia - puente</text>
<text class="l" x="273" y="506.6">oporrak-vacaciones</text>
<text class="l" x="273" y="515">berezia-especial</text>
<text class="l" x="273" y="523.4">txanda egokitzapena - adaptación turno</text>
</svg>
</body></html>
